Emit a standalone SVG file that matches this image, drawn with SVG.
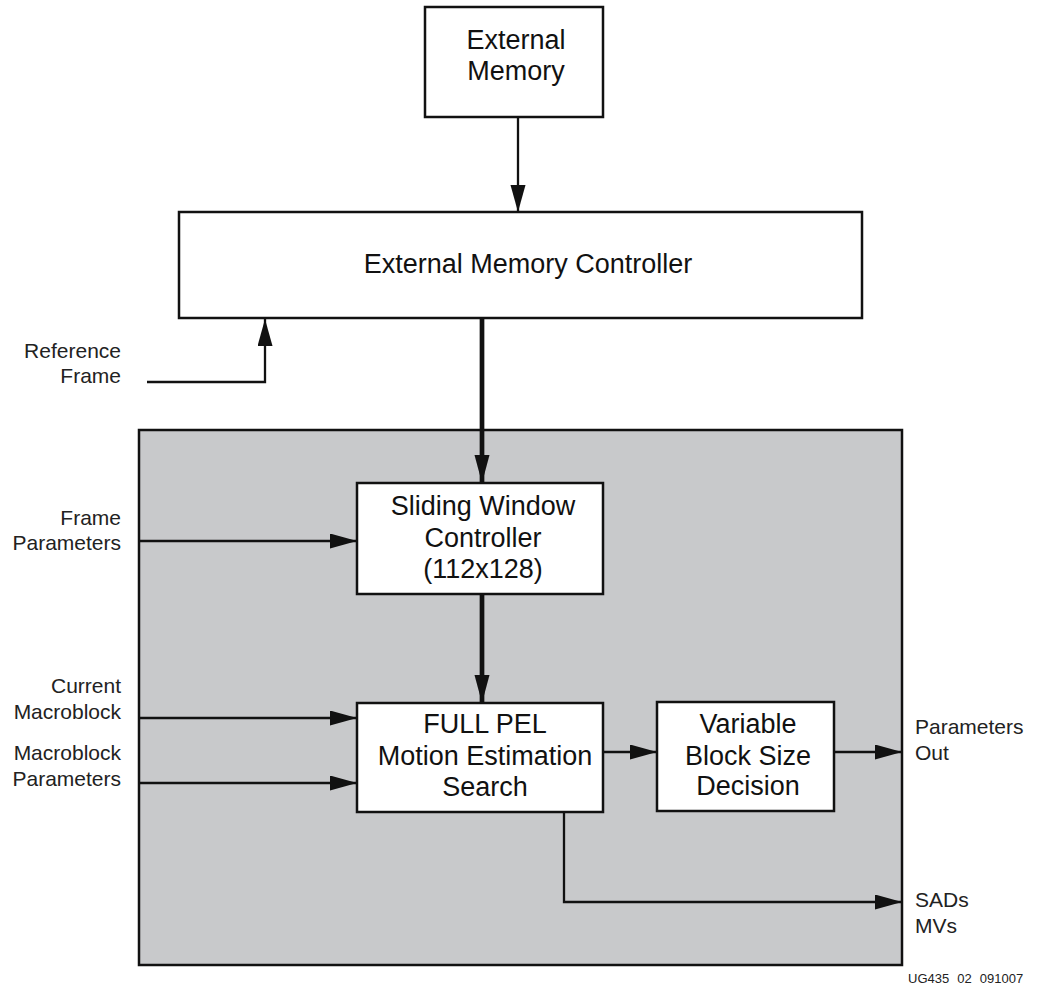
<svg xmlns="http://www.w3.org/2000/svg" width="1040" height="987" viewBox="0 0 1040 987">
<style>
.box{fill:#fff;stroke:#111;stroke-width:2.5}
.gray{fill:#c8c9cb;stroke:#111;stroke-width:2.5}
.bt{font-family:"Liberation Sans",Arial,sans-serif;font-size:27px;fill:#111;text-anchor:middle}
.lbl{font-family:"Liberation Sans",Arial,sans-serif;font-size:21px;fill:#222}
.r{text-anchor:end}
.ln{fill:none;stroke:#111;stroke-width:2.3}
.thick{fill:none;stroke:#111;stroke-width:4.7}
</style>
<defs>
<marker id="ah" markerUnits="userSpaceOnUse" markerWidth="30" markerHeight="18" refX="27" refY="7.5" orient="auto">
<path d="M0,0 L27,7.5 L0,15 z" fill="#111"/>
</marker>
<marker id="ahT" markerUnits="userSpaceOnUse" markerWidth="30" markerHeight="18" refX="28" refY="7.5" orient="auto">
<path d="M0,0 L28,7.5 L0,15 z" fill="#111"/>
</marker>
</defs>
<g id="enclosure">
<rect class="gray" x="139" y="430" width="763" height="535"/>
</g>
<g id="external-memory">
<rect class="box" x="425" y="7" width="178" height="110"/>
<text class="bt" x="516" y="49">External</text>
<text class="bt" x="516" y="80">Memory</text>
</g>
<g id="controller">
<rect class="box" x="179" y="212" width="683" height="106"/>
<text class="bt" x="528" y="273">External Memory Controller</text>
</g>
<g id="sliding-window">
<rect class="box" x="357" y="483" width="246" height="111"/>
<text class="bt" x="483" y="515">Sliding Window</text>
<text class="bt" x="483" y="547">Controller</text>
<text class="bt" x="483" y="578">(112x128)</text>
</g>
<g id="full-pel">
<rect class="box" x="357" y="703" width="246" height="109"/>
<text class="bt" x="485" y="733">FULL PEL</text>
<text class="bt" x="485" y="765">Motion Estimation</text>
<text class="bt" x="485" y="796">Search</text>
</g>
<g id="variable-block">
<rect class="box" x="657" y="702" width="177" height="109"/>
<text class="bt" x="748" y="733">Variable</text>
<text class="bt" x="748" y="765">Block Size</text>
<text class="bt" x="748" y="795">Decision</text>
</g>
<g id="labels">
<text class="lbl r" x="121" y="358">Reference</text>
<text class="lbl r" x="121" y="383">Frame</text>
<text class="lbl r" x="121" y="525">Frame</text>
<text class="lbl r" x="121" y="550">Parameters</text>
<text class="lbl r" x="121" y="693">Current</text>
<text class="lbl r" x="121" y="719">Macroblock</text>
<text class="lbl r" x="121" y="760">Macroblock</text>
<text class="lbl r" x="121" y="786">Parameters</text>
<text class="lbl" x="915" y="734">Parameters</text>
<text class="lbl" x="915" y="760">Out</text>
<text class="lbl" x="915" y="907">SADs</text>
<text class="lbl" x="915" y="933">MVs</text>
<text x="908" y="983" font-family="Liberation Sans, Arial, sans-serif" font-size="13" fill="#222" word-spacing="4.5">UG435 02 091007</text>
</g>
<g id="connectors">
<line class="ln" x1="518" y1="117" x2="518" y2="212" marker-end="url(#ah)"/>
<polyline class="ln" points="147,382 265,382 265,319" marker-end="url(#ah)"/>
<line class="thick" x1="482" y1="318" x2="482" y2="483" marker-end="url(#ahT)"/>
<line class="thick" x1="482" y1="594" x2="482" y2="703" marker-end="url(#ahT)"/>
<line class="ln" x1="140" y1="541" x2="357" y2="541" marker-end="url(#ah)"/>
<line class="ln" x1="140" y1="718" x2="357" y2="718" marker-end="url(#ah)"/>
<line class="ln" x1="140" y1="783" x2="357" y2="783" marker-end="url(#ah)"/>
<line class="ln" x1="603" y1="752" x2="657" y2="752" marker-end="url(#ah)"/>
<line class="ln" x1="834" y1="752" x2="902" y2="752" marker-end="url(#ah)"/>
<polyline class="ln" points="564,812 564,902 902,902" marker-end="url(#ah)"/>
</g>
</svg>
